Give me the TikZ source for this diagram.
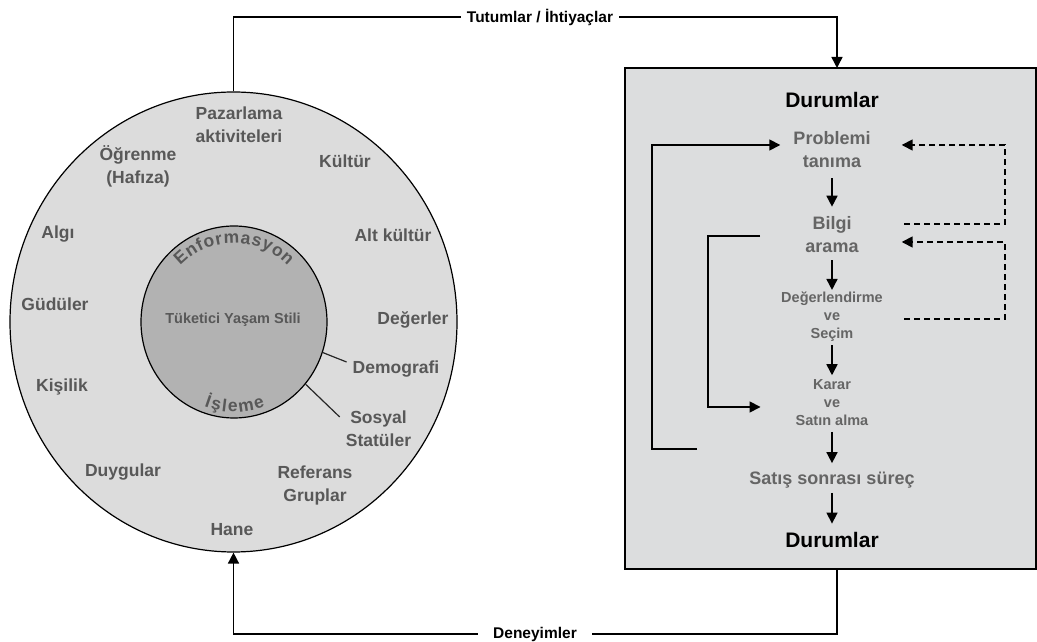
\documentclass[tikz,border=0pt]{standalone}
\usepackage{fontspec}
\setmainfont{Liberation Sans}
\usetikzlibrary{arrows.meta,shapes.geometric,decorations.text,calc}

\definecolor{ringfill}{HTML}{DCDCDC}
\definecolor{corefill}{HTML}{B2B2B2}
\definecolor{boxfill}{HTML}{DCDDDE}
\definecolor{labelgray}{HTML}{585858}
\definecolor{stepgray}{HTML}{656565}

\newcommand{\curvefont}{\fontsize{17.5}{17.5}\selectfont\bfseries}

\begin{document}
\begin{tikzpicture}[x=1pt,y=1pt,
  wire/.style={line width=1.6pt},
  arr/.style={wire,-{Triangle[length=11pt,width=11pt]}},
  dasharr/.style={arr,dash pattern=on 6pt off 4pt},
  lbl/.style={font=\fontsize{17.5}{23}\selectfont\bfseries,text=labelgray,align=center,inner sep=0pt},
  headlbl/.style={font=\fontsize{21}{21}\selectfont\bfseries,text=black,inner sep=0pt},
  procstep/.style={font=\fontsize{18}{23}\selectfont\bfseries,text=stepgray,align=center,inner sep=0pt},
  smallstep/.style={font=\fontsize{14.5}{18}\selectfont\bfseries,text=stepgray,align=center,inner sep=0pt},
  conlbl/.style={font=\fontsize{15.5}{15.5}\selectfont\bfseries,text=black,inner ysep=2pt},
  tick/.style={line width=1.2pt,draw=black!85}
]
\useasboundingbox (0,0) rectangle (1037,642);
\fill[white] (0,0) rectangle (1037,642);

% ---- lifestyle rings ----
\node[ellipse,draw,fill=ringfill,line width=1.2pt,minimum width=447pt,minimum height=460pt,inner sep=0pt] (outer) at (233.5,320) {};
\node[ellipse,draw,fill=corefill,line width=1.2pt,minimum width=186pt,minimum height=192pt,inner sep=0pt] (inner) at (234,320) {};

\node[font=\fontsize{14.5}{14.5}\selectfont\bfseries,text=labelgray,inner sep=0pt] (tys) at (233,322) {Tüketici Yaşam Stili};

% words running along the core, spread evenly over their arcs
\path[decorate,decoration={text along path,text align=fit to path,text color=labelgray,
  text={|\curvefont|Enformasyon}}]
  ($(inner.center)+(135:76 and 79)$) arc[start angle=135,end angle=45,x radius=76,y radius=79];
\path[decorate,decoration={text along path,text align=fit to path,text color=labelgray,
  text={|\curvefont|İşleme}}]
  ($(inner.center)+(250:87 and 90)$) arc[start angle=250,end angle=291,x radius=87,y radius=90];

% ring labels
\node[lbl] (paz)   at (239,517.5) {Pazarlama\\aktiviteleri};
\node[lbl] (ogr)   at (138,475.5) {Öğrenme\\(Hafıza)};
\node[lbl] (kul)   at (345,481)   {Kültür};
\node[lbl] (algi)  at (58,408)    {Algı};
\node[lbl] (alt)   at (393,407)   {Alt kültür};
\node[lbl] (gud)   at (55,338)    {Güdüler};
\node[lbl] (deger) at (413,322)   {Değerler};
\node[lbl] (demo)  at (396,273)   {Demografi};
\node[lbl] (kis)   at (62,255)    {Kişilik};
\node[lbl] (sos)   at (378.5,213.5) {Sosyal\\Statüler};
\node[lbl] (duy)   at (123,170)   {Duygular};
\node[lbl] (ref)   at (315,157)   {Referans\\Gruplar};
\node[lbl] (hane)  at (232,112)   {Hane};

\draw[tick] (inner.-19) -- ([shift={(-6,7)}]demo.west);
\draw[tick] (inner.-41) -- ([shift={(-6,11.5)}]sos.west);

% ---- decision process panel ----
\node[draw,fill=boxfill,line width=1.5pt,minimum width=411pt,minimum height=501pt,inner sep=0pt] (box) at (830.5,323.5) {};
\coordinate (boxtop) at (837,574);
\coordinate (boxbot) at (837,73);

\node[headlbl]   (dur1)  at (832,542)   {Durumlar};
\node[procstep]  (prob)  at (832,492.5) {Problemi\\tanıma};
\node[procstep]  (bilgi) at (832,407)   {Bilgi\\arama};
\node[smallstep] (deg)   at (832,325)   {Değerlendirme\\ve\\Seçim};
\node[smallstep] (karar) at (832,239.5) {Karar\\ve\\Satın alma};
\node[procstep]  (satis) at (832,162)   {Satış sonrası süreç};
\node[headlbl]   (dur2)  at (832,102)   {Durumlar};

\draw[arr,shorten <=10.5pt,shorten >=10pt] (prob) -- (bilgi);
\draw[arr,shorten <=7pt,shorten >=2pt] (bilgi) -- (deg);
\draw[arr,shorten <=3pt,shorten >=4pt] (deg) -- (karar);
\draw[arr,shorten <=6pt,shorten >=8.5pt] (karar) -- (satis);
\draw[arr,shorten <=4.5pt,shorten >=8.5pt] (satis) -- (dur2);

% solid feedback loops on the left
\coordinate (loopA) at (697,193);
\coordinate (loopAc) at (652,193);
\draw[arr] (loopA) -- (loopAc) |- ([shift={(-13,4.5)}]prob.west);
\coordinate (loopB) at (760,406);
\coordinate (loopBc) at (708,406);
\draw[arr] (loopB) -- (loopBc) |- ([shift={(-35,-4.5)}]karar.west);

% dashed feedback loops on the right
\coordinate (dashA) at (904,418);
\coordinate (dashAc) at (1005,418);
\draw[dasharr] (dashA) -- (dashAc) |- ([shift={(31,4.5)}]prob.east);
\coordinate (dashB) at (904,323);
\coordinate (dashBc) at (1005,323);
\draw[dasharr] (dashB) -- (dashBc) |- ([shift={(43,-7)}]bilgi.east);

% ---- links between the two parts ----
\node[conlbl,inner xsep=6pt] (tut) at (540,625) {Tutumlar / İhtiyaçlar};
\draw[wire] (outer.north) |- (tut.west);
\draw[arr] (tut.east) -| (boxtop);

\node[conlbl,inner xsep=15.5pt] (den) at (535,8) {Deneyimler};
\draw[wire] (boxbot) |- (den.east);
\draw[arr] (den.west) -| (outer.south);
\end{tikzpicture}
\end{document}
